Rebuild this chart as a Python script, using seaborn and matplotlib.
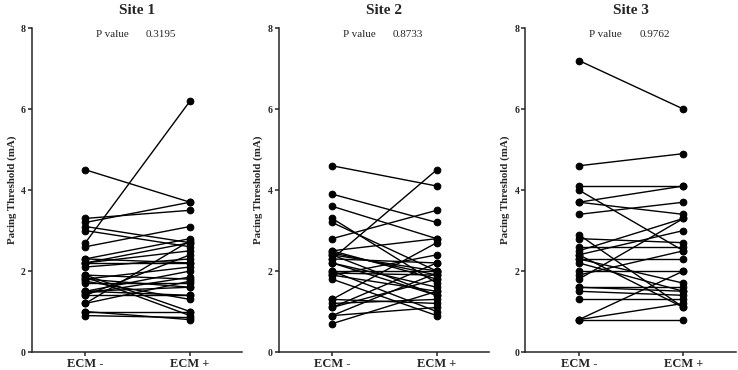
import matplotlib
matplotlib.use("Agg")
import matplotlib.pyplot as plt
import seaborn as sns
import pandas as pd

# paired pacing thresholds (mA): ECM - / ECM + per subject
site1_minus = [4.5, 3.3, 3.2, 3.1, 3.0, 2.7, 2.6, 2.3, 2.3, 2.2, 2.2, 2.1, 1.9, 1.9, 1.85, 1.8,
               1.75, 1.7, 1.5, 1.5, 1.45, 1.4, 1.4, 1.2, 1.2, 1.0, 0.9, 1.0, 1.5, 1.8, 2.2]
site1_plus = [3.7, 3.5, 3.7, 2.7, 2.6, 6.2, 3.1, 2.8, 2.2, 2.7, 2.2, 2.3, 1.0, 1.8, 0.9, 1.6,
              1.3, 1.7, 2.0, 1.4, 1.85, 2.4, 1.4, 2.75, 1.75, 1.0, 0.85, 0.8, 1.6, 2.1, 2.5]

site2_minus = [4.6, 3.9, 3.6, 3.3, 3.2, 2.8, 2.5, 2.45, 2.4, 2.3, 2.3, 2.2, 2.0, 2.0, 1.95,
               1.9, 1.9, 1.8, 1.3, 1.3, 1.1, 1.1, 0.9, 0.9, 0.7, 2.5, 2.4, 1.2, 2.2]
site2_plus = [4.1, 3.2, 2.8, 1.7, 2.0, 3.5, 2.8, 1.9, 1.4, 4.5, 2.2, 1.6, 2.0, 1.0, 1.9,
              1.5, 2.4, 0.9, 2.7, 1.2, 2.2, 1.8, 1.1, 1.95, 1.5, 1.8, 2.0, 1.3, 1.4]

site3_minus = [7.2, 4.6, 4.1, 4.0, 3.7, 3.7, 3.4, 2.9, 2.8, 2.6, 2.5, 2.4, 2.3, 2.2, 1.9,
               1.8, 1.6, 1.6, 1.5, 1.3, 0.8, 0.8, 0.8, 2.0, 2.3, 2.4]
site3_plus = [6.0, 4.9, 4.1, 2.5, 4.1, 3.4, 3.7, 1.1, 2.7, 2.6, 3.3, 3.0, 2.3, 1.5, 2.5,
              3.3, 1.6, 1.5, 1.4, 1.3, 2.0, 1.2, 0.8, 2.0, 1.7, 1.1]

titles = ["Site 1", "Site 2", "Site 3"]
p_values = ["0.3195", "0.8733", "0.9762"]
groups = ["ECM -", "ECM +"]

sns.set_style("ticks")
plt.rcParams['font.family'] = ['Liberation Serif', 'DejaVu Serif']
plt.rcParams['axes.linewidth'] = 1.1

fig, axes = plt.subplots(1, 3, figsize=(7.38, 3.70), dpi=100)
fig.subplots_adjust(left=0.0434, right=0.997, bottom=0.0486, top=0.924, wspace=0.173)

sites = [(site1_minus, site1_plus), (site2_minus, site2_plus), (site3_minus, site3_plus)]

for ax, (mins, plus), title, pv in zip(axes, sites, titles, p_values):
    n = len(mins)
    df = pd.DataFrame({
        'subject': list(range(n)) * 2,
        'group': [0] * n + [1] * n,
        'value': mins + plus,
    })
    sns.lineplot(data=df, x='group', y='value', units='subject', estimator=None,
                 color='black', linewidth=1.0, marker='o', markersize=4.8,
                 markeredgecolor='black', ax=ax)
    ax.set_xlim(-0.51, 1.5)
    ax.set_ylim(0, 8)
    ax.set_yticks([0, 2, 4, 6, 8])
    ax.set_xticks([0, 1])
    ax.set_xticklabels(groups, fontsize=9, fontweight='bold')
    for lab in ax.get_yticklabels():
        lab.set_fontsize(7)
        lab.set_fontweight('bold')
    ax.tick_params(axis='both', length=3, width=1.1, pad=1.5)
    ax.set_xlabel('')
    ax.set_ylabel('Pacing Threshold (mA)', fontsize=7.8, fontweight='bold', labelpad=3)
    ax.set_title(title, fontsize=11, fontweight='bold', pad=10)
    ax.text(0.1, 7.85, 'P value', fontsize=8, va='center', ha='left')
    ax.text(0.58, 7.85, pv, fontsize=8, va='center', ha='left')
    sns.despine(ax=ax)

fig.savefig('out.png', dpi=100)
